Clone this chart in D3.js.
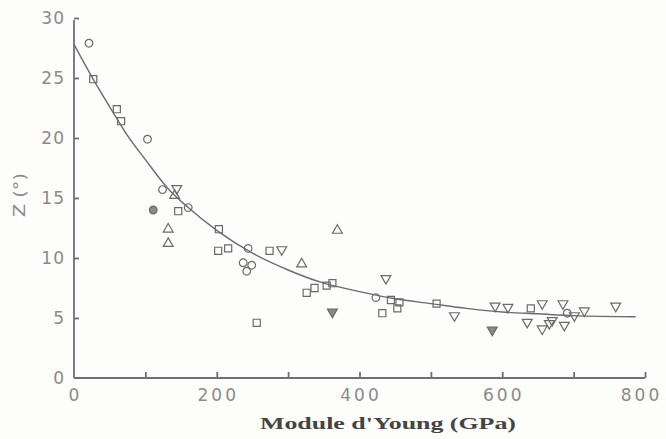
<html>
<head>
<meta charset="utf-8">
<title>Z vs Module d'Young</title>
<script src="https://d3js.org/d3.v7.min.js"></script>
<style>
    body { margin: 0; background: #fdfdfb; }
    .axis path, .axis line { stroke: #6f6f7c; stroke-width: 1.8px; }
    .axis text { fill: #8a8a8a; font-family: "DejaVu Sans", sans-serif; font-size: 17px; letter-spacing: 1px; }
    .axis.x text { letter-spacing: 3px; }
    .mark { fill: none; stroke: #6a6a6a; stroke-width: 1.2px; }
    .mark.filled { fill: #8a8a8a; }
</style>
</head>
<body>
<div id="chart"></div>
<script type="text/javascript">
// values: [Module d'Young (GPa), Z (deg)]
var circles = [[21,27.9],[103,19.9],[124,15.7],[160,14.2],[244,10.8],[237,9.6],[249,9.4],[242,8.9],[423,6.7],[691,5.4]];
var circlesFilled = [[111,14.0]];
var squares = [[27,24.9],[60,22.4],[66,21.4],[146,13.9],[203,12.4],[202,10.6],[216,10.8],[274,10.6],[256,4.6],[326,7.1],[337,7.5],[354,7.7],[362,7.9],[444,6.5],[432,5.4],[453,5.8],[456,6.3],[508,6.2],[640,5.8]];
var trianglesUp = [[132,12.4],[132,11.2],[141,15.2],[319,9.5],[369,12.3]];
var trianglesDown = [[144,15.8],[291,10.7],[437,8.3],[533,5.2],[590,6.0],[608,5.9],[635,4.65],[656,6.2],[656,4.1],[666,4.55],[670,4.8],[685,6.2],[687,4.4],[701,5.2],[715,5.6],[759,6.0]];
var trianglesDownFilled = [[362,5.5],[586,4.0]];

// fitted curve
var curveX = [0, 25, 50, 75, 100, 130, 160, 200, 250, 300, 350, 400, 450, 500, 550, 600, 650, 700, 787];
var curveY = [27.8, 25.1, 22.6, 20.2, 18.2, 15.9, 14.2, 12.3, 10.4, 9.0, 7.9, 7.2, 6.6, 6.2, 5.8, 5.5, 5.35, 5.2, 5.1];

var xTicks = [0, 100, 200, 300, 400, 500, 600, 700, 800];
var xLabels = [0, 200, 400, 600, 800];
var yTicks = [0, 5, 10, 15, 20, 25, 30];

var width = 666, height = 439;

var svg = d3.select("#chart").append("svg")
    .attr("width", width).attr("height", height);

var x = d3.scaleLinear().domain([0, 800]).range([74, 645]);
var y = d3.scaleLinear().domain([0, 30]).range([378, 18]);

var xAxis = svg.append("g").attr("class", "axis x")
    .attr("transform", "translate(0," + y(0) + ")")
    .call(d3.axisBottom(x).tickValues(xTicks).tickSizeInner(-6).tickSizeOuter(0).tickPadding(11)
        .tickFormat(function (d) { return xLabels.indexOf(d) >= 0 ? d : ""; }));

var yAxis = svg.append("g").attr("class", "axis y")
    .attr("transform", "translate(" + x(0) + ",0)")
    .call(d3.axisLeft(y).tickValues(yTicks).tickSizeInner(-5).tickSizeOuter(0).tickPadding(9));

yAxis.select(".domain").attr("d", "M0," + (y(30) + 2) + "V" + y(0));
xAxis.select(".domain").attr("d", "M" + x(0) + ",0H" + x(800));
xAxis.selectAll(".tick").filter(function (d) { return d === 0; }).select("line").remove();
yAxis.selectAll(".tick").filter(function (d) { return d === 0; }).select("line").remove();
xAxis.selectAll(".tick text").attr("dx", 1);
xAxis.selectAll(".tick").filter(function (d) { return d === 800; }).select("text").attr("dx", -4);

var line = d3.line()
    .x(function (d) { return x(d[0]); })
    .y(function (d) { return y(d[1]); })
    .curve(d3.curveMonotoneX);

svg.append("path")
    .datum(d3.zip(curveX, curveY))
    .attr("fill", "none")
    .attr("stroke", "#6a6a72")
    .attr("stroke-width", 1.4)
    .attr("d", line);

function marks(data, type, size, rot, filled) {
    svg.append("g").selectAll("path").data(data).enter().append("path")
        .attr("class", filled ? "mark filled" : "mark")
        .attr("d", d3.symbol().type(type).size(size))
        .attr("transform", function (d) { return "translate(" + x(d[0]) + "," + y(d[1]) + ") rotate(" + rot + ")"; });
}

marks(circles, d3.symbolCircle, 46, 0, false);
marks(circlesFilled, d3.symbolCircle, 46, 0, true);
marks(squares, d3.symbolSquare, 50, 0, false);
marks(trianglesUp, d3.symbolTriangle, 42, 0, false);
marks(trianglesDown, d3.symbolTriangle, 42, 180, false);
marks(trianglesDownFilled, d3.symbolTriangle, 42, 180, true);

svg.append("text")
    .attr("x", 388).attr("y", 429)
    .attr("text-anchor", "middle")
    .attr("textLength", 256)
    .attr("lengthAdjust", "spacingAndGlyphs")
    .style("font-family", "'Liberation Serif', serif")
    .style("font-weight", "bold")
    .style("font-size", "16px")
    .style("fill", "#444")
    .text("Module d'Young (GPa)");

svg.append("text")
    .attr("transform", "translate(25,195) rotate(-90)")
    .attr("text-anchor", "middle")
    .attr("textLength", 44)
    .attr("lengthAdjust", "spacingAndGlyphs")
    .style("font-family", "'DejaVu Sans', sans-serif")
    .style("font-size", "15px")
    .style("fill", "#8a8a8a")
    .text("Z (°)");
</script>
</body>
</html>
